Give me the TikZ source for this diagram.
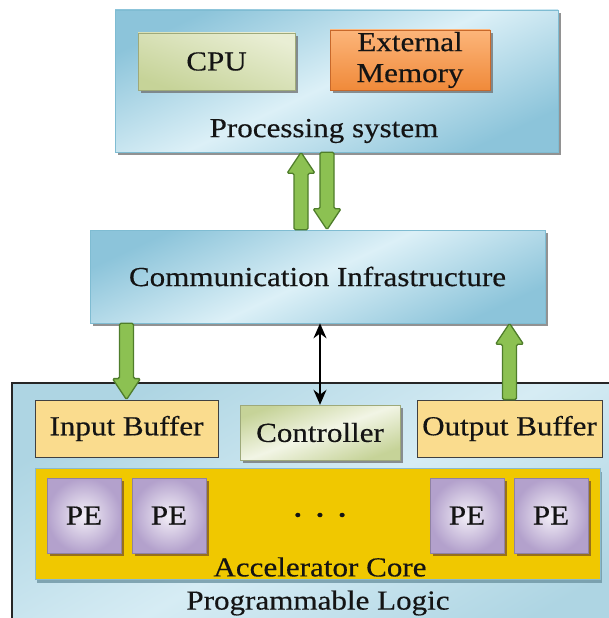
\documentclass[tikz,border=0pt]{standalone}
\usepackage{fontspec}
\setmainfont{Liberation Serif}[FakeStretch=1.13,FakeBold=0.4]
\usetikzlibrary{shadows,arrows.meta,calc}

\definecolor{txt}{HTML}{141414}
\definecolor{blueEdge}{HTML}{8CC4DA}
\definecolor{blueMid}{HTML}{DCF0F7}
\definecolor{blueLine}{HTML}{7FBCD2}
\definecolor{plEdge}{HTML}{AED5E3}
\definecolor{plMid}{HTML}{D6ECF4}
\definecolor{cpuLight}{HTML}{E9EED4}
\definecolor{cpuDark}{HTML}{C6D398}
\definecolor{memLight}{HTML}{FCB57A}
\definecolor{memDark}{HTML}{F08A3A}
\definecolor{memLine}{HTML}{C8682A}
\definecolor{bufFill}{HTML}{FADC8E}
\definecolor{coreFill}{HTML}{F0C800}
\definecolor{coreLine}{HTML}{8ABACC}
\definecolor{peLight}{HTML}{F4F0F8}
\definecolor{peDark}{HTML}{B3A1CC}
\definecolor{arrowGreen}{HTML}{8CC152}
\definecolor{arrowEdge}{HTML}{4F7D2B}
\definecolor{shadowGray}{HTML}{6E6E6E}

\tikzset{
  x=1pt, y=-1pt,
  label text/.style={text=txt, font=\fontsize{27.5}{31}\selectfont, align=center, inner sep=0pt},
  boxbase/.style={rectangle, label text},
  shadowed/.style={drop shadow={shadow xshift=3pt, shadow yshift=-3pt, fill=shadowGray, opacity=0.75}},
  bluebox/.style={boxbase, shadowed, draw=blueLine, line width=0.6pt,
    left color=blueEdge, right color=blueEdge, middle color=blueMid, shading angle=25},
  cpubox/.style={boxbase, shadowed, draw=cpuDark!80!black, line width=0.4pt,
    left color=cpuLight, right color=cpuDark, shading angle=-20},
  ctrlbox/.style={boxbase, shadowed, draw=cpuDark!80!black, line width=0.4pt,
    left color=cpuDark, right color=cpuDark, middle color=cpuLight!60!white, shading angle=20},
  membox/.style={boxbase, shadowed, draw=memLine, line width=0.6pt,
    top color=memLight, bottom color=memDark},
  bufbox/.style={boxbase, fill=bufFill, draw=black!75, line width=0.8pt},
  corebox/.style={rectangle, fill=coreFill, draw=coreLine, line width=1pt,
    drop shadow={shadow xshift=2pt, shadow yshift=-3pt, fill=coreLine!80!black, opacity=0.8}},
  pebox/.style={boxbase, inner color=peLight, outer color=peDark, draw=peDark!80!black, line width=0.3pt,
    drop shadow={shadow xshift=3pt, shadow yshift=-3pt, fill=brown!60!black, opacity=0.7},
    minimum width=74pt, minimum height=75pt},
  plbox/.style={draw=black!85, line width=1.4pt,
    left color=plEdge, right color=plEdge, middle color=plMid, shading angle=30},
  fat arrow/.style={draw=arrowEdge, fill=arrowGreen, line width=1.3pt, rounded corners=1.5pt,
    to path={($(\tikztostart)+(-7pt,0pt)$) -- ($(\tikztotarget)+(-7pt,#1)$)
      -- ($(\tikztotarget)+(-14pt,#1)$) -- (\tikztotarget)
      -- ($(\tikztotarget)+(14pt,#1)$) -- ($(\tikztotarget)+(7pt,#1)$)
      -- ($(\tikztostart)+(7pt,0pt)$) -- cycle}},
  ctrl arrow/.style={draw=black, line width=1.8pt,
    {Stealth[length=15pt,width=13pt]}-{Stealth[length=15pt,width=13pt]}},
}

\begin{document}
\begin{tikzpicture}
  \useasboundingbox (0,0) rectangle (609,618);
  \clip (0,0) rectangle (609,618);
  \fill[white] (0,0) rectangle (609,618);

  % Processing system block
  \node[bluebox, minimum width=443pt, minimum height=142pt] (ps) at (336.5,81) {};
  \node[cpubox, minimum width=157pt, minimum height=57pt] (cpu) at (216.5,61.5) {CPU};
  \node[membox, minimum width=160pt, minimum height=60pt] (mem) at (410,60) {External\\Memory};
  \node[label text] (pslabel) at (324,131) {Processing system};

  % Communication infrastructure
  \node[bluebox, minimum width=455pt, minimum height=93pt] (comm) at (317.5,276.5)
    {Communication Infrastructure};

  % Programmable logic region (runs off the right and bottom edges)
  \path[plbox] (12,383) rectangle (640,640);

  \node[bufbox, minimum width=183pt, minimum height=57pt] (inbuf) at (126.5,428.5) {Input Buffer};
  \node[ctrlbox, minimum width=160pt, minimum height=55pt] (ctrl) at (320,432.5) {Controller};
  \node[bufbox, minimum width=185pt, minimum height=57pt] (outbuf) at (509.5,428.5) {Output Buffer};

  % Accelerator core with processing elements
  \node[corebox, minimum width=565pt, minimum height=111pt] (core) at (317.5,524) {};
  \node[pebox] (pe1) at (84,515.5) {PE};
  \node[pebox] (pe2) at (169,515.5) {PE};
  \node[label text, font=\fontsize{36}{36}\selectfont] (dots) at (320,515) {.\hspace{12pt}.\hspace{12pt}.};
  \node[pebox] (pe3) at (467,515.5) {PE};
  \node[pebox] (pe4) at (551,515.5) {PE};
  \node[label text] (corelabel) at (320,567) {Accelerator Core};
  \node[label text] (pllabel) at (318,603) {Programmable Logic};

  % Links between the processing system and the interconnect
  \coordinate (upx) at (301,0);
  \coordinate (downx) at (327,0);
  \draw[fat arrow=-21pt] (comm.north -| upx) to (ps.south -| upx);
  \draw[fat arrow=21pt] (ps.south -| downx) to (comm.north -| downx);

  % Links between the interconnect and the programmable logic
  \draw[fat arrow=21pt] (comm.south -| inbuf.north) to (inbuf.north);
  \draw[fat arrow=-21pt] (outbuf.north) to (comm.south -| outbuf.north);
  \draw[ctrl arrow] (comm.south -| ctrl.north) -- (ctrl.north);
\end{tikzpicture}
\end{document}
